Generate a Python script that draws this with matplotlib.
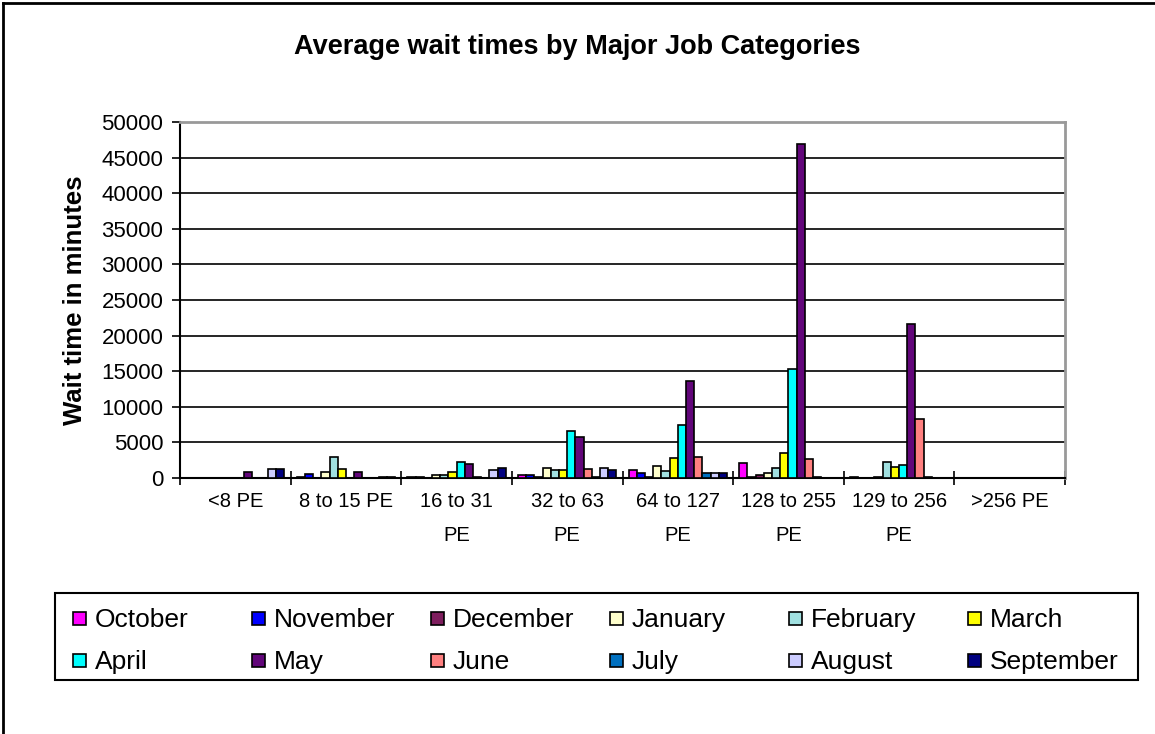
import numpy as np
import matplotlib.pyplot as plt
from matplotlib.lines import Line2D
from matplotlib.patches import Rectangle

plt.rcParams['font.family'] = ['Liberation Sans', 'DejaVu Sans']

categories = ['<8 PE', '8 to 15 PE', '16 to 31\nPE', '32 to 63\nPE',
              '64 to 127\nPE', '128 to 255\nPE', '129 to 256\nPE', '>256 PE']
months = ['October', 'November', 'December', 'January', 'February', 'March',
          'April', 'May', 'June', 'July', 'August', 'September']

# average wait (minutes) per month, one entry per job category
october = [0, 100, 100, 450, 1080, 2100, 100, 0]
november = [0, 500, 100, 450, 700, 100, 0, 0]
december = [0, 0, 0, 100, 150, 420, 0, 0]
january = [0, 850, 450, 1400, 1650, 700, 100, 0]
february = [0, 3000, 450, 1100, 1000, 1350, 2250, 0]
march = [0, 1300, 850, 1100, 2750, 3500, 1600, 0]
april = [0, 0, 2250, 6650, 7450, 15300, 1850, 0]
may = [850, 850, 1950, 5800, 13650, 46900, 21600, 0]
june = [0, 0, 100, 1300, 2950, 2650, 8300, 0]
july = [0, 0, 0, 100, 700, 100, 100, 0]
august = [1300, 100, 1100, 1400, 700, 0, 0, 0]
september = [1300, 100, 1400, 1100, 700, 0, 0, 0]

series = [october, november, december, january, february, march,
          april, may, june, july, august, september]
colors = ['#FF00FF', '#0000FF', '#7E1E5E', '#FFFFCC', '#A0E0E0', '#FFFF00',
          '#00FFFF', '#62067A', '#FF8080', '#0070C0', '#CCCCFF', '#000080']

W, H = 1155, 734


def fx(px):
    return px / W


def fy(py):
    return 1 - py / H


fig = plt.figure(figsize=(W / 100, H / 100), dpi=100)
ax = fig.add_axes([fx(180), fy(478), 885 / W, 356 / H])

n = len(series)
w = 1 / (n + 1.5)
x = np.arange(len(categories))
for i, (vals, c, name) in enumerate(zip(series, colors, months)):
    offs = -0.5 + (0.75 + i + 0.5) * w
    ax.bar(x + offs, vals, width=w, color=c, edgecolor='black',
           linewidth=1.2, label=name, zorder=3)

ax.set_xlim(-0.5, len(categories) - 0.5)
ax.set_ylim(0, 50000)
ax.set_yticks(np.arange(0, 50001, 5000))
ax.yaxis.grid(True, color='black', linewidth=1.2, zorder=0)
ax.tick_params(axis='y', labelsize=16, direction='out', length=6,
               width=1.2, pad=6)

ax.set_xticks(x)
ax.set_xticklabels(categories, fontsize=14.5, linespacing=2.0, va='top')
ax.tick_params(axis='x', length=0, pad=10)
ax.set_xticks(np.arange(-0.5, len(categories)), minor=True)
ax.tick_params(axis='x', which='minor', direction='inout', length=10,
               width=1.2)

for side in ('top', 'right'):
    ax.spines[side].set_color('#999999')
    ax.spines[side].set_linewidth(2)
for side in ('left', 'bottom'):
    ax.spines[side].set_color('black')
    ax.spines[side].set_linewidth(1.5)

ax.set_ylabel('Wait time in minutes', fontsize=18.5, fontweight='bold',
              labelpad=10)
fig.text(0.5, fy(47), 'Average wait times by Major Job Categories',
         ha='center', va='center', fontsize=19.5, fontweight='bold')

# legend: 2 rows x 6 columns on a fixed grid, read across rows
fig.add_artist(Rectangle((fx(55), fy(680)), fx(1138) - fx(55), fy(593) - fy(680),
                         transform=fig.transFigure, facecolor='white',
                         edgecolor='black', linewidth=1.5))
ncol = 6
for k, (name, c) in enumerate(zip(months, colors)):
    row, col = divmod(k, ncol)
    x0 = 72 + 179 * col
    yc = 618 + 42 * row
    fig.add_artist(Rectangle((fx(x0 + 1), fy(yc + 6.5)), 13 / W, 13 / H,
                             transform=fig.transFigure, facecolor=c,
                             edgecolor='black', linewidth=1.2))
    fig.text(fx(x0 + 23), fy(yc + 9), name, ha='left', va='baseline',
             fontsize=19)

# chart frame (top and left edges)
fig.add_artist(Line2D([fx(3), fx(3)], [0, fy(3)],
                      transform=fig.transFigure, color='black', linewidth=2))
fig.add_artist(Line2D([fx(3), 1], [fy(3), fy(3)],
                      transform=fig.transFigure, color='black', linewidth=2))

fig.savefig('out.png', dpi=100)
